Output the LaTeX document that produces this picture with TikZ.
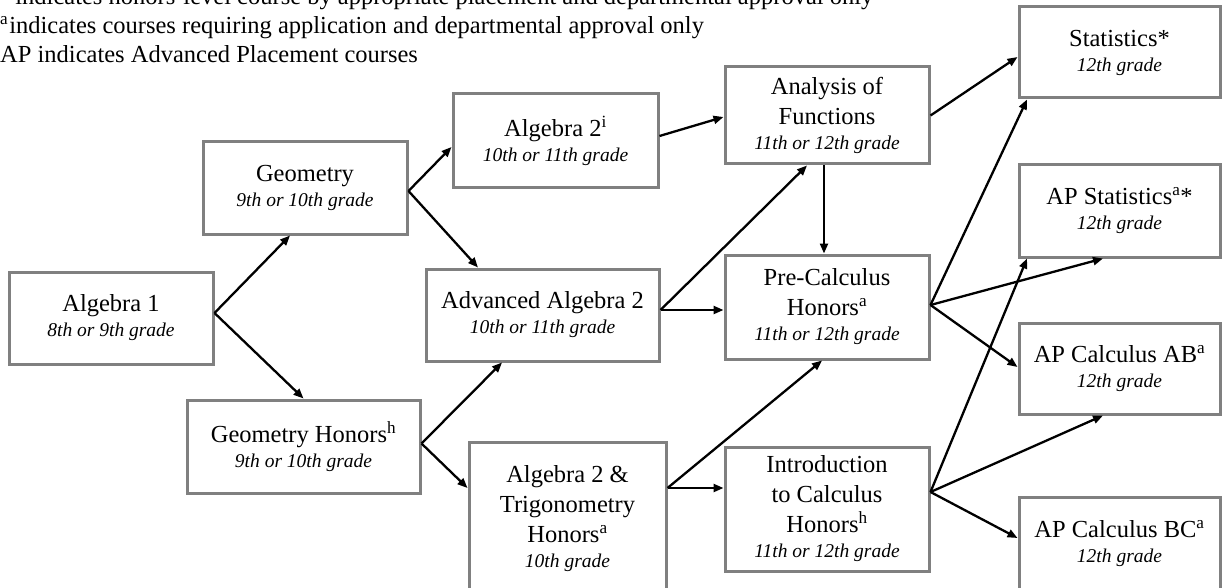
\documentclass[tikz,border=0pt]{standalone}
\usepackage{fontspec}
\setmainfont{Liberation Serif}
\usetikzlibrary{arrows.meta}
\definecolor{boxgray}{RGB}{128,128,128}
\tikzset{
  course/.style={draw=boxgray, line width=3pt, align=center, inner sep=0pt,
    font=\fontsize{24.5}{30}\selectfont},
  flow/.style={black, line width=2.3pt, -{Triangle[length=10pt,width=8pt]}},
  legend/.style={anchor=base west, inner sep=0pt,
    font=\fontsize{24.5}{29}\selectfont},
}
\newcommand{\grade}[1]{\\[-5pt]{\fontsize{19.5}{24}\selectfont\itshape #1}}
\newcommand{\upr}[1]{\textsuperscript{#1}}
\begin{document}
\begin{tikzpicture}[x=1pt, y=-1pt]
\useasboundingbox (0,0) rectangle (1222,588);

% legend lines
\node[legend] (legh) at (0,5) {\upr{h} indicates honors-level course by appropriate placement and departmental approval only};
\node[legend] (lega) at (0,34) {\upr{a}\hspace{1pt}indicates courses requiring application and departmental approval only};
\node[legend] (legap) at (0,63) {AP indicates Advanced Placement courses};

% course boxes
\node[course, minimum width=204pt, minimum height=92pt] (alg1) at (111,318) {Algebra 1\grade{8th or 9th grade}};
\node[course, minimum width=204pt, minimum height=92pt] (geo) at (305,188) {Geometry\grade{9th or 10th grade}};
\node[course, minimum width=233pt, minimum height=93pt] (geoh) at (303.5,446.5) {Geometry Honors\upr{h}\grade{9th or 10th grade}};
\node[course, minimum width=205pt, minimum height=93pt] (alg2) at (555.5,140.5) {Algebra 2\upr{i}\grade{10th or 11th grade}};
\node[course, minimum width=233pt, minimum height=92pt] (adv) at (542.5,315) {Advanced Algebra 2\grade{10th or 11th grade}};
\node[course, minimum width=197pt, minimum height=154pt] (trig) at (567.5,519) {Algebra 2 \&\\Trigonometry\\Honors\upr{a}\grade{10th grade}};
\node[course, minimum width=204pt, minimum height=97pt] (anal) at (827,115.5) {Analysis of\\Functions\grade{11th or 12th grade}};
\node[course, minimum width=204pt, minimum height=104pt] (pre) at (827,307) {Pre-Calculus\\Honors\upr{a}\grade{11th or 12th grade}};
\node[course, minimum width=204pt, minimum height=124pt] (intro) at (827,509) {Introduction\\to Calculus\\Honors\upr{h}\grade{11th or 12th grade}};
\node[course, minimum width=201pt, minimum height=91pt] (stat) at (1119.5,52.5) {Statistics*\grade{12th grade}};
\node[course, minimum width=201pt, minimum height=92pt] (apstat) at (1119.5,211) {AP Statistics\upr{a}*\grade{12th grade}};
\node[course, minimum width=201pt, minimum height=91pt] (ab) at (1119.5,368.5) {AP Calculus AB\upr{a}\grade{12th grade}};
\node[course, minimum width=201pt, minimum height=94pt] (bc) at (1119.5,544) {AP Calculus BC\upr{a}\grade{12th grade}};

% prerequisite arrows
\draw[flow] ([yshift=5pt]alg1.east) -- ([xshift=-15pt]geo.south);
\draw[flow] ([yshift=5pt]alg1.east) -- (geoh.north);
\draw[flow] ([yshift=-3pt]geo.east) -- ([yshift=-6.5pt]alg2.west);
\draw[flow] ([yshift=-3pt]geo.east) -- ([xshift=-64.5pt]adv.north);
\draw[flow] ([yshift=3pt]geoh.east) -- ([xshift=-40.5pt]adv.south);
\draw[flow] ([yshift=3pt]geoh.east) -- ([yshift=31pt]trig.west);
\draw[flow] ([yshift=4.5pt]alg2.east) -- ([yshift=-1.5pt]anal.west);
\draw[flow] ([yshift=5pt]adv.east) -- ([xshift=-20pt]anal.south);
\draw[flow] ([yshift=5pt]adv.east) -- ([yshift=-3pt]pre.west);
\draw[flow] ([xshift=-3pt]anal.south) -- ([xshift=-3pt]pre.north);
\draw[flow] ([yshift=31pt]trig.east) -- ([xshift=-5pt]pre.south);
\draw[flow] ([yshift=31pt]trig.east) -- ([yshift=21pt]intro.west);
\draw[flow] (anal.east) -- ([yshift=-4.5pt]stat.west);
\draw[flow] ([yshift=2pt]pre.east) -- ([xshift=-92.5pt]stat.south);
\draw[flow] ([yshift=2pt]pre.east) -- ([xshift=-16.5pt]apstat.south);
\draw[flow] ([yshift=2pt]pre.east) -- ([yshift=1.5pt]ab.west);
\draw[flow] ([yshift=17pt]intro.east) -- ([xshift=-92.5pt]apstat.south);
\draw[flow] ([yshift=17pt]intro.east) -- ([xshift=-16.5pt]ab.south);
\draw[flow] ([yshift=17pt]intro.east) -- ([yshift=6pt]bc.west);
\end{tikzpicture}
\end{document}
